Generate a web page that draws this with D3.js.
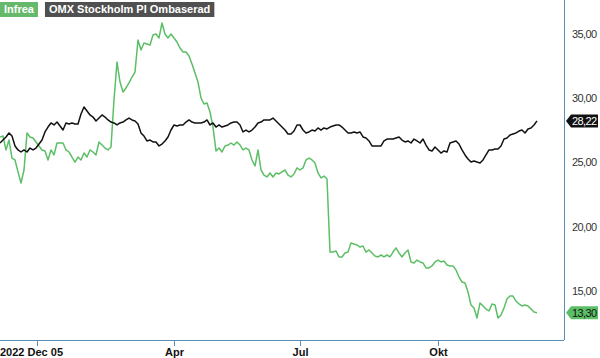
<!DOCTYPE html>
<html><head><meta charset="utf-8">
<script src="https://cdn.jsdelivr.net/npm/d3@7"></script>
<style>
html,body{margin:0;padding:0;background:#fff;}
svg{display:block;font-family:"Liberation Sans",Arial,sans-serif;}
</style></head>
<body>
<svg id="c" width="600" height="358"></svg>
<script>
const seriesNames = ["Infrea", "OMX Stockholm PI Ombaserad"];
const infrea = [26.97,27.04,25.96,26.73,25.33,25.18,24.25,23.39,24.40,27.28,26.97,26.89,26.58,26.27,25.96,25.88,25.18,25.96,25.57,26.50,
26.50,26.50,25.96,25.80,25.41,25.02,25.41,25.18,25.72,25.41,25.96,25.80,25.57,26.58,26.34,26.11,25.96,26.19,29.84,32.80,
31.24,30.47,30.78,31.17,31.63,32.02,34.51,33.73,34.28,34.20,34.12,34.90,34.98,34.67,35.83,34.98,34.67,34.98,34.67,34.35,
33.89,33.58,33.58,33.27,32.64,31.94,31.24,30.00,29.53,29.61,28.91,27.74,25.88,26.11,25.80,26.27,26.34,26.50,26.34,26.58,
26.34,25.96,26.11,25.96,25.18,24.71,25.96,24.40,24.01,23.86,24.17,23.86,24.17,24.09,24.25,24.40,24.01,23.86,24.09,24.56,
24.40,24.56,25.18,25.33,25.18,24.95,24.17,23.78,23.93,23.70,18.02,18.02,18.10,17.64,17.64,17.95,18.02,18.72,18.65,18.57,
18.41,18.49,18.02,18.18,17.95,17.71,17.64,17.79,17.64,17.79,17.64,18.02,18.34,17.95,17.64,17.95,18.18,17.25,17.17,17.40,
17.25,17.17,16.78,16.78,16.94,17.25,17.40,17.25,17.32,17.01,16.94,16.94,16.62,16.08,15.69,15.61,14.91,13.90,13.67,12.89,
14.06,13.83,13.59,13.44,13.98,13.90,12.89,13.13,13.67,14.37,14.60,14.60,14.21,13.98,13.83,13.90,13.83,13.59,13.36,13.30];
const omx = [26.50,26.73,26.97,27.28,27.04,26.27,25.96,25.80,25.96,25.80,26.11,25.96,26.11,26.42,26.73,27.36,27.74,28.06,27.90,28.13,
27.82,27.51,28.06,27.98,28.06,27.98,27.98,28.76,29.30,28.99,28.68,28.52,28.21,28.44,28.68,28.52,28.29,28.13,28.06,27.90,
28.06,28.13,28.29,28.44,28.29,28.21,27.98,27.28,27.04,26.66,26.73,26.58,26.58,26.27,26.42,26.66,26.97,27.51,27.90,27.82,
27.90,27.90,28.13,28.29,28.13,28.06,28.06,28.06,28.13,28.29,27.90,28.06,27.74,27.90,27.74,27.82,27.90,28.06,28.13,28.13,
27.90,27.36,27.51,27.36,27.51,27.74,28.06,28.13,28.29,28.29,28.29,28.44,28.21,27.98,27.74,27.51,27.20,27.20,27.43,27.90,
27.90,27.51,27.28,27.36,27.51,27.43,27.67,27.51,27.67,27.59,27.74,27.82,27.90,27.90,27.74,27.51,27.28,27.28,27.36,27.28,
27.36,26.97,26.89,26.66,26.27,26.27,26.27,26.27,26.66,26.81,26.81,26.81,26.89,26.97,26.73,26.58,26.66,26.50,26.81,26.66,
26.50,26.81,26.34,25.96,25.88,26.19,25.96,25.72,25.88,25.80,26.50,26.58,26.66,26.42,25.96,25.57,25.26,25.02,25.10,25.02,
24.95,25.18,25.57,25.96,25.96,26.03,26.03,26.27,26.81,26.89,27.12,27.20,27.28,27.43,27.51,27.28,27.59,27.67,27.90,28.22];
const xTickIndex = [12.33, 58, 100, 146];
const xTickLabels = ["2022 Dec 05", "Apr", "Jul", "Okt"];
const yTicks = [15, 20, 25, 30, 35];

const colors = {green:"#5cbf66", black:"#111111", axis:"#5a8fb5"};
const svg = d3.select("#c");
const W = 564, H = 340;
const x = d3.scaleLinear().domain([0, infrea.length - 1]).range([0, 537]);
const y = d3.scaleLinear().domain([11.18, 37.62]).range([H, 0]);
const fmt = v => d3.format(".2f")(v).replace(".", ",");

// frame
svg.append("line").attr("x1",0).attr("x2",W).attr("y1",H+0.5).attr("y2",H+0.5).attr("stroke",colors.axis);
svg.append("line").attr("x1",W+0.5).attr("x2",W+0.5).attr("y1",0).attr("y2",H).attr("stroke",colors.axis);

// x ticks
const xg = svg.append("g");
xTickIndex.forEach((t,i)=>{
  const px = Math.round(x(t)) + 0.5;
  xg.append("line").attr("x1",px).attr("x2",px).attr("y1",H).attr("y2",H+6).attr("stroke",colors.axis);
  const tx = xg.append("text").attr("y",356).attr("font-size",11).attr("font-weight","bold").attr("fill","#111").text(xTickLabels[i]);
  if(i===0){ tx.attr("x",0).attr("text-anchor","start"); }
  else { tx.attr("x",px).attr("text-anchor","middle"); }
});

// y ticks
const yg = svg.append("g");
yTicks.forEach(v=>{
  yg.append("text").attr("x",572).attr("y",y(v)+4).attr("font-size",11).attr("textLength",25).attr("fill","#333").text(fmt(v));
});

// lines
const line = d3.line().x((d,i)=>x(i)).y(d=>y(d));
svg.append("path").datum(infrea).attr("d",line).attr("fill","none").attr("stroke",colors.green).attr("stroke-width",1.5).attr("stroke-linejoin","round");
svg.append("path").datum(omx).attr("d",line).attr("fill","none").attr("stroke",colors.black).attr("stroke-width",1.5).attr("stroke-linejoin","round");

// value badges
function badge(v, bg){
  const cy = y(v);
  const g = svg.append("g");
  g.append("path").attr("d",`M566,${cy} L571,${cy-6.5} L598,${cy-6.5} L598,${cy+6.5} L571,${cy+6.5} Z`).attr("fill",bg);
  g.append("text").attr("x",572).attr("y",cy+4).attr("font-size",11).attr("textLength",25).attr("fill", bg===colors.black?"#fff":"#111").text(fmt(v));
}
badge(omx[omx.length-1], colors.black);
badge(infrea[infrea.length-1], colors.green);

// legend
const lg = svg.append("g");
const items = [{name:seriesNames[0], bg:"#66b96a"},{name:seriesNames[1], bg:"#505050"}];
let lx = 0;
items.forEach(it=>{
  const t = lg.append("text").attr("x",lx+4).attr("y",13).attr("font-size",11).attr("font-weight","bold").attr("fill","#fff").text(it.name);
  const w = t.node().getComputedTextLength();
  lg.insert("rect","text").attr("x",lx).attr("y",2).attr("width",w+8).attr("height",15).attr("fill",it.bg);
  lx += w + 8 + 7;
});
</script>
</body></html>
